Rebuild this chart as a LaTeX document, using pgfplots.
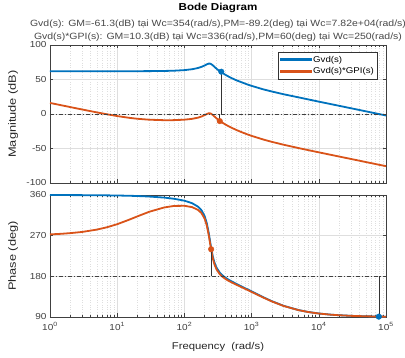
\documentclass[border=0pt]{standalone}
\usepackage{pgfplots}
\pgfplotsset{compat=1.18}
\usepackage{pgfplotstable}
\usepackage{fontspec}
\setmainfont{Liberation Sans}[FakeStretch=1.15]
\newfontfamily\vfont{Liberation Sans}[FakeStretch=1.22]
\definecolor{mblue}{RGB}{0,114,189}
\definecolor{morange}{RGB}{217,83,25}
\definecolor{axc}{RGB}{64,64,64}

\pgfplotstableread{
w      magB   phB     magO    phO
1      62.00  359.90  16.03   272.80
1.5    62.00  359.85  12.52   274.20
2      62.00  359.80  10.04   275.60
3      62.00  359.67  6.57    278.20
5      62.00  359.44  2.30    283.50
7      62.01  359.21  -0.37   288.50
10     62.01  358.88  -2.99   295.40
15     62.03  358.31  -5.53   305.20
20     62.06  357.75  -6.93   312.75
30     62.13  356.60  -8.27   322.90
50     62.37  354.24  -8.98   332.40
70     62.75  351.71  -8.91   335.80
100    63.59  347.40  -8.24   336.09
130    64.86  341.94  -7.04   333.19
160    66.69  334.06  -5.24   326.93
180    68.33  326.03  -3.62   319.69
200    70.34  313.32  -1.62   307.61
215    71.93  298.26  -0.03   292.95
230    73.01  276.56  1.05    271.59
240    73.03  259.54  1.06    254.78
250    72.34  243.16  0.37    239.50
265    70.49  223.69  -1.50   219.37
280    68.37  210.56  -3.61   206.47
300    65.75  199.43  -6.23   195.61
336    61.94  188.13  -10.20  184.72
354    60.80  184.49  -11.60  181.26
400    57.24  177.90  -14.75  175.04
450    54.47  172.93  -17.52  170.39
500    52.21  169.06  -19.78  166.77
600    48.65  162.97  -23.35  161.06
700    46.20  158.03  -26.09  156.39
850    43.10  151.83  -29.24  150.48
1000   40.80  146.59  -31.68  145.44
1500   35.65  133.60  -37.05  132.84
2000   32.60  125.01  -40.37  124.44
3000   28.60  114.75  -44.56  114.37
5000   24.10  105.36  -49.38  105.13
7000   21.10  101.08  -52.41  100.92
10000  17.90  97.80   -55.56  97.69
15000  14.40  95.21   -59.11  95.13
20000  11.90  93.92   -61.62  93.86
30000  8.35   92.61   -65.15  92.57
50000  3.90   91.57   -69.60  91.55
78200  0.00   91.00   -73.50  90.98
100000 -2.10  90.61   -75.62  90.60
}\bode

\begin{document}
\begin{tikzpicture}
\useasboundingbox (0pt,0pt) rectangle (405pt,-358pt);
\node[anchor=base, font=\fontsize{10.1}{12}\selectfont\bfseries] at (218pt,-10.5pt) {Bode Diagram};
\node[anchor=base, font=\fontsize{9.1}{11}\selectfont, text=black!72] at (218pt,-26.8pt) {Gvd(s): GM=-61.3(dB) tại Wc=354(rad/s),PM=-89.2(deg) tại Wc=7.82e+04(rad/s)};
\node[anchor=base, font=\fontsize{9.1}{11}\selectfont, text=black!72] at (218pt,-39.2pt) {Gvd(s)*GPI(s): GM=10.3(dB) tại Wc=336(rad/s),PM=60(deg) tại Wc=250(rad/s)};

\begin{axis}[at={(50pt,-45pt)}, anchor=north west,
  scale only axis, width=336pt, height=138pt,
  xmode=log, xmin=1, xmax=100000,
  xtick={1,10,100,1000,10000,100000},
  minor xtick={2,3,4,5,6,7,8,9,20,30,40,50,60,70,80,90,200,300,400,500,600,700,800,900,2000,3000,4000,5000,6000,7000,8000,9000,20000,30000,40000,50000,60000,70000,80000,90000},
  grid=both,
  major grid style={black!13, line width=0.5pt},
  minor grid style={black!13, dotted, line width=0.5pt},
  axis line style={draw=axc, line width=0.6pt},
  tick style={axc, line width=0.5pt},
  major tick length=3.5pt, minor tick length=2pt,
  tick label style={font=\fontsize{8.7}{10}\selectfont, text=axc},
  clip=false,
  ymin=-100, ymax=100, ytick={-100,-50,0,50,100}, yticklabels={-100,-50,0,50,100},
  xticklabels={},
  ylabel={\vfont Magnitude (dB)},
  ylabel style={at={(axis description cs:-0.110,0.5)}, anchor=center, font=\fontsize{10.5}{12}\selectfont, text=black!85},
  legend style={at={(axis description cs:0.975,0.949)}, anchor=north east,
    draw=black!80, line width=0.5pt, fill=white, font=\fontsize{8.4}{10}\selectfont,
    inner xsep=2pt, inner ysep=2pt, row sep=0pt, nodes={inner xsep=1.5pt}},
  legend cell align=left,
]
\addplot[draw=mblue, line width=1.8pt, forget plot] table[x=w, y=magB] {\bode};
\addplot[draw=morange, line width=1.8pt, forget plot] table[x=w, y=magO] {\bode};
\addlegendimage{legend image code/.code={\fill[mblue] (0pt,-0.3pt) rectangle (31pt,1.5pt);}}
\addlegendentry{Gvd(s)}
\addlegendimage{legend image code/.code={\fill[morange] (0pt,-0.3pt) rectangle (31pt,1.5pt);}}
\addlegendentry{Gvd(s)*GPI(s)}
\addplot[black!75, line width=0.6pt, dash pattern=on 4pt off 2pt on 1pt off 2pt, forget plot] coordinates {(1,0) (100000,0)};
\addplot[black!80, line width=0.6pt, forget plot] coordinates {(354,0) (354,61.3)};
\addplot[black!80, line width=0.6pt, forget plot] coordinates {(336,0) (336,-10.3)};
\addplot[only marks, mark=*, mark size=2.8pt, mblue, forget plot] coordinates {(354,61.3)};
\addplot[only marks, mark=*, mark size=2.8pt, morange, forget plot] coordinates {(336,-10.3)};
\end{axis}

\begin{axis}[at={(50pt,-195pt)}, anchor=north west,
  scale only axis, width=336pt, height=122pt,
  xmode=log, xmin=1, xmax=100000,
  xtick={1,10,100,1000,10000,100000},
  minor xtick={2,3,4,5,6,7,8,9,20,30,40,50,60,70,80,90,200,300,400,500,600,700,800,900,2000,3000,4000,5000,6000,7000,8000,9000,20000,30000,40000,50000,60000,70000,80000,90000},
  grid=both,
  major grid style={black!13, line width=0.5pt},
  minor grid style={black!13, dotted, line width=0.5pt},
  axis line style={draw=axc, line width=0.6pt},
  tick style={axc, line width=0.5pt},
  major tick length=3.5pt, minor tick length=2pt,
  tick label style={font=\fontsize{8.7}{10}\selectfont, text=axc},
  clip=false,
  ymin=90, ymax=360, ytick={90,180,270,360}, yticklabels={90,180,270,360},
  xticklabels={10\textsuperscript{0},10\textsuperscript{1},10\textsuperscript{2},10\textsuperscript{3},10\textsuperscript{4},10\textsuperscript{5}},
  xticklabel style={yshift=-2pt},
  ylabel={\vfont Phase (deg)},
  ylabel style={at={(axis description cs:-0.110,0.5)}, anchor=center, font=\fontsize{10.5}{12}\selectfont, text=black!85},
  xlabel={Frequency\ \ (rad/s)},
  xlabel style={at={(axis description cs:0.5,-0.243)}, anchor=center, font=\fontsize{9.8}{12}\selectfont, text=black!85},
]
\addplot[draw=mblue, line width=1.8pt] table[x=w, y=phB] {\bode};
\addplot[draw=morange, line width=1.8pt] table[x=w, y=phO] {\bode};
\addplot[black!75, line width=0.6pt, dash pattern=on 4pt off 2pt on 1pt off 2pt] coordinates {(1,180) (100000,180)};
\addplot[black!80, line width=0.6pt] coordinates {(250,180) (250,240)};
\addplot[black!80, line width=0.6pt] coordinates {(78200,180) (78200,90.8)};
\addplot[only marks, mark=*, mark size=2.8pt, morange] coordinates {(250,240)};
\addplot[only marks, mark=*, mark size=2.8pt, mblue] coordinates {(78200,90.8)};
\end{axis}
\end{tikzpicture}
\end{document}
